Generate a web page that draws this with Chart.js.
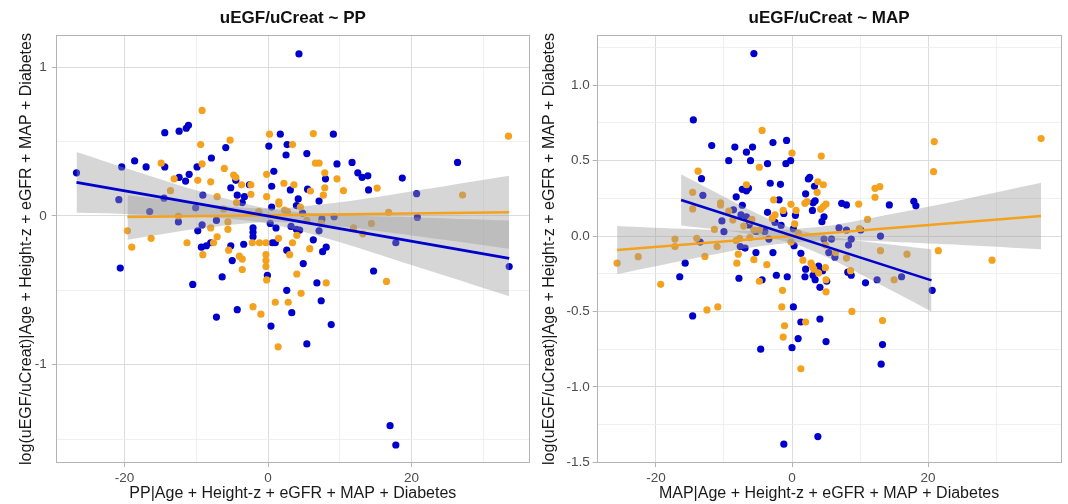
<!DOCTYPE html>
<html>
<head>
<meta charset="utf-8">
<script src="https://cdn.jsdelivr.net/npm/chart.js@4/dist/chart.umd.min.js"></script>
<style>
  body { margin: 0; background: #fff; }
  #wrap { display: flex; width: 1068px; height: 504px; }
  canvas { display: block; }
</style>
</head>
<body>
<div id="wrap">
  <canvas id="ppChart" width="534" height="504"></canvas>
  <canvas id="mapChart" width="534" height="504"></canvas>
</div>
<script>
// ---- left panel: uEGF/uCreat ~ PP  ([x, y] pairs)
const ppBlue = [
  [4.3,1.09],[-26.7,0.29],[-20.4,0.33],[-18.6,0.37],[-17.0,0.33],[-14.4,0.56],[-12.4,0.57],[-11.4,0.59],
  [-11.1,0.61],[-14.4,0.33],[-20.8,0.11],[-16.5,0.03],[-14.5,0.12],[-12.5,-0.04],[-12.4,0.26],[-11.5,0.235],
  [-11.0,0.28],[-9.9,0.33],[-9.1,0.14],[-10.1,0.055],[-7.9,0.39],[-5.9,0.46],[-5.2,0.19],[-4.5,0.24],
  [-4.3,0.14],[-3.3,0.13],[-3.6,0.09],[-9.2,-0.06],[-9.8,-0.10],[-7.2,-0.03],[0.1,0.47],[1.7,0.55],
  [2.65,0.48],[2.5,0.41],[0.8,0.30],[0.5,0.20],[-2.6,0.21],[-8.0,-0.18],[-8.6,-0.20],[-9.3,-0.21],
  [-5.2,-0.20],[-3.4,-0.19],[-2.1,-0.08],[-2.1,-0.11],[-2.1,-0.14],[0.6,-0.18],[1.0,-0.18],
  [9.1,0.55],[5.4,0.42],[9.6,0.35],[11.7,0.36],[12.5,0.29],[13.1,0.26],[13.9,0.27],[18.7,0.255],
  [26.4,0.36],[8.0,0.25],[3.1,0.175],[5.5,0.18],[4.2,0.115],[7.1,0.10],[14.0,0.175],[20.7,0.15],
  [20.8,-0.01],[17.8,-0.18],[3.95,0.07],[7.5,-0.02],[9.2,-0.005],[7.1,-0.10],[6.3,-0.16],[8.1,-0.21],
  [3.2,-0.07],[3.95,-0.09],[4.4,-0.095],[0.3,-0.05],[0.5,0.06],[1.1,-0.08],[4.8,0.02],[7.6,-0.24],
  [-20.6,-0.35],[-5.0,-0.30],[-6.4,-0.41],[-10.5,-0.46],[-7.2,-0.68],[-4.3,-0.63],[-0.1,-0.40],[0.4,-0.74],
  [2.6,-0.50],[2.6,-0.23],[3.3,-0.65],[5.4,-0.86],[4.9,-0.32],[6.8,-0.45],[7.4,-0.57],[8.8,-0.73],
  [14.7,-0.37],[17.0,-1.41],[17.8,-1.54],[33.6,-0.34]
];
const ppOrange = [
  [-9.2,0.71],[-9.4,0.48],[-5.3,0.51],[-14.9,0.355],[-13.1,0.25],[-13.6,0.17],[-9.8,0.24],[-8.0,0.23],
  [-9.2,0.35],[-6.1,0.32],[-4.8,0.275],[-4.5,0.26],[-3.7,0.21],[-2.4,0.21],[-2.4,0.146],[-7.1,0.13],
  [-6.2,0.047],[-8.0,-0.08],[-5.6,-0.04],[-5.6,-0.09],[-7.1,-0.14],[-11.3,-0.18],[-16.3,-0.15],[-19.0,-0.21],
  [-19.6,-0.10],[-12.5,0.0],[-0.2,0.28],[-0.2,0.13],[0.2,0.55],[2.2,0.22],[1.5,0.095],[1.5,0.08],
  [-1.3,0.03],[-2.2,-0.18],[-1.2,-0.18],[-0.3,-0.18],[1.45,-0.15],[-4.4,0.09],
  [6.3,0.554],[3.4,0.48],[6.6,0.355],[7.1,0.355],[7.9,0.29],[9.6,0.25],[7.9,0.19],[7.7,0.14],
  [10.5,0.17],[5.9,0.168],[3.6,0.21],[15.2,0.188],[27.1,0.141],[33.5,0.537],[16.8,0.025],[14.4,-0.05],
  [11.9,-0.08],[13.2,-0.12],[5.4,-0.03],[2.3,0.04],[2.7,0.03],[4.5,0.06],[7.4,-0.05],[4.0,-0.13],
  [3.4,-0.18],[5.8,-0.22],
  [-9.1,-0.26],[-7.6,-0.18],[-5.5,-0.23],[-4.0,-0.27],[-3.6,-0.29],[-3.6,-0.36],[-0.3,-0.26],[-0.3,-0.30],
  [-0.3,-0.34],[-0.2,-0.43],[1.0,-0.58],[-2.1,-0.61],[-1.0,-0.66],[1.4,-0.88],[3.0,-0.26],[4.0,-0.39],
  [8.1,-0.45],[4.6,-0.52],[2.8,-0.58],[16.5,-0.44]
];
const ppBlueFit = [[-26.7,0.226],[33.6,-0.285]];
const ppOrangeFit = [[-19.6,-0.007],[33.6,0.025]];
// [x, lower, upper]
const ppBlueBand = [[-26.7,0.021,0.431],[-20,0.013,0.325],[-10,-0.003,0.173],[0,-0.05,0.05],
  [10,-0.176,0.008],[20,-0.33,-0.008],[33.6,-0.54,-0.03]];
const ppOrangeBand = [[-19.6,-0.16,0.14],[-10,-0.088,0.086],[0,-0.04,0.05],[10,-0.071,0.093],
  [20,-0.131,0.165],[33.6,-0.22,0.27]];

// ---- right panel: uEGF/uCreat ~ MAP
const mapBlue = [
  [-5.6,1.21],[-14.5,0.77],[-11.8,0.60],[-8.4,0.59],[-6.7,0.556],[-5.8,0.59],[-2.8,0.62],[-0.8,0.634],
  [-9.3,0.50],[-6.1,0.50],[-3.6,0.48],[-0.9,0.48],[-0.2,0.50],[-13.3,0.38],[-7.3,0.31],[-6.7,0.30],
  [-6.4,0.317],[-8.2,0.26],[-3.2,0.35],[-1.7,0.343],[-1.9,0.24],[-3.6,0.157],[-1.2,0.15],[0.5,0.137],
  [2.4,0.378],[2.6,0.389],[2.0,0.28],[3.3,0.33],[3.0,0.17],[3.4,0.234],[-13.1,0.27],[-10.3,0.10],
  [-10.0,0.029],[-8.6,0.174],[-7.3,0.204],[-7.5,0.14],[-6.7,0.128],[-6.3,0.104],[-6.3,0.073],[-2.5,0.09],
  [-1.6,0.07],[-5.3,0.03],[-4.0,0.03],[-7.6,-0.07],[-6.9,-0.08],[-3.4,-0.02],[0.2,0.047],[0.3,-0.064],
  [-13.5,-0.04],[-5.3,-0.11],[-2.8,-0.11],[1.3,-0.115],[4.7,-0.02],[5.8,-0.02],[5.4,-0.11],[6.3,-0.14],
  [6.9,0.055],[8.0,0.04],[8.7,-0.02],[8.3,-0.06],[10.1,0.04],[13.0,0.0],[7.3,0.217],[8.0,0.206],
  [14.3,0.206],[17.9,0.23],[18.2,0.20],[4.4,0.095],[4.7,0.128],[3.1,0.22],
  [-15.7,-0.18],[-16.5,-0.27],[-14.6,-0.53],[-7.8,-0.28],[-4.4,-0.29],[-2.3,-0.26],[-0.7,-0.27],[-4.6,-0.75],
  [0.0,-0.74],[0.2,-0.47],[1.9,-0.27],[2.0,-0.22],[1.3,-0.57],[0.9,-0.68],[3.1,-0.26],[3.4,-0.29],
  [3.9,-0.20],[4.1,-0.34],[4.5,-0.23],[4.1,-0.55],[5.0,-0.70],[5.1,-0.30],[8.2,-0.24],[8.7,-0.26],
  [10.8,-0.31],[12.5,-0.29],[16.1,-0.27],[20.6,-0.36],[13.3,-0.72],[13.1,-0.85],[-1.2,-1.38],[3.8,-1.33]
];
const mapOrange = [
  [-4.4,0.70],[0.0,0.55],[4.3,0.53],[-4.8,0.456],[-13.8,0.43],[-14.6,0.29],[-14.6,0.18],[-10.5,0.22],
  [-10.5,0.206],[-9.3,0.166],[-6.7,0.34],[-8.7,0.106],[-6.1,0.10],[-2.7,0.24],[-2.5,0.14],[-2.9,0.117],
  [-1.3,0.17],[-0.15,0.21],[0.6,0.17],[1.9,0.217],[2.2,0.228],[3.8,0.36],[4.6,0.34],[3.7,0.29],
  [4.2,0.177],[5.0,0.212],[4.6,0.195],[9.8,0.212],[12.2,0.316],[12.9,0.327],[12.2,0.257],[20.9,0.626],
  [20.8,0.427],[36.6,0.646],[21.5,-0.097],[13.0,-0.097],[16.9,-0.12],[29.4,-0.16],[-17.2,-0.02],[-17.2,-0.07],
  [-14.0,-0.015],[-11.4,0.044],[-11.0,-0.07],[-22.6,-0.137],[-8.2,-0.03],[-7.7,-0.015],[-5.6,0.04],[-4.8,0.04],
  [-6.2,-0.01],[0.9,0.02],[4.9,-0.06],[11.1,0.11],[9.9,0.05],[0.4,0.08],[-7.1,0.066],[-5.9,0.11],
  [-25.7,-0.18],[-19.3,-0.32],[-12.8,-0.135],[-12.5,-0.49],[-10.9,-0.47],[-8.1,-0.18],[-7.9,-0.12],[-5.6,-0.157],
  [-4.8,-0.30],[-3.7,-0.19],[-1.4,-0.36],[-1.5,-0.47],[-1.1,-0.595],[-1.3,-0.67],[-0.15,-0.04],[1.6,-0.16],
  [2.8,-0.18],[3.0,-0.20],[3.2,-0.22],[2.0,-0.57],[1.3,-0.88],[3.9,-0.245],[4.9,-0.21],[5.0,-0.29],
  [5.0,-0.37],[6.4,-0.11],[8.0,-0.146],[8.6,-0.23],[8.8,-0.50],[13.3,-0.56],[15.0,-0.29]
];
const mapBlueFit = [[-16.3,0.239],[20.5,-0.294]];
const mapOrangeFit = [[-25.7,-0.093],[36.6,0.133]];
const mapBlueBand = [[-16.3,0.069,0.409],[-10,0.036,0.26],[-5,0.004,0.146],[0,-0.047,0.053],
  [5,-0.138,0.0],[10,-0.251,-0.033],[15,-0.369,-0.059],[20.5,-0.5,-0.088]];
const mapOrangeBand = [[-25.7,-0.253,0.067],[-15,-0.154,0.046],[-5,-0.07,0.034],[5,-0.03,0.066],
  [15,-0.039,0.149],[25,-0.059,0.241],[36.6,-0.087,0.353]];

// ---- axes
const xGrid = [-20, -10, 0, 10, 20, 30];
const xMajor = [-20, 0, 20];
const ppYGrid = [-1.5, -1, -0.5, 0, 0.5, 1];
const ppYMajor = [-1, 0, 1];
const mapYGrid = [-1.5, -1.25, -1, -0.75, -0.5, -0.25, 0, 0.25, 0.5, 0.75, 1, 1.25];
const mapYMajor = [-1.5, -1, -0.5, 0, 0.5, 1];

const BLUE = '#0000cd';
const ORANGE = '#f4a21e';
const BAND = 'rgba(153,153,153,0.4)';
const FONT = "'Liberation Sans', Arial, sans-serif";

function xy(arr) { return arr.map(p => ({ x: p[0], y: p[1] })); }
function isIn(list, v) { return list.some(m => Math.abs(m - v) < 1e-9); }

const panelDecor = {
  id: 'panelDecor',
  afterDatasetsDraw(chart, args, opts) {
    const { ctx, chartArea: a } = chart;
    ctx.save();
    ctx.strokeStyle = '#b3b3b3';
    ctx.lineWidth = 1;
    ctx.strokeRect(Math.round(a.left) + 0.5, Math.round(a.top) + 0.5,
      Math.round(a.right - a.left) - 1, Math.round(a.bottom - a.top) - 1);
    ctx.fillStyle = '#111';
    ctx.font = 'bold 17px ' + FONT;
    ctx.textAlign = 'center';
    ctx.textBaseline = 'middle';
    ctx.fillText(opts.text, (a.left + a.right) / 2, 18);
    ctx.restore();
  }
};

function bandSets(band) {
  const common = { type: 'line', pointRadius: 0, borderWidth: 0, borderColor: 'rgba(0,0,0,0)',
    tension: 0.3, order: 1 };
  return [
    Object.assign({ data: band.map(b => ({ x: b[0], y: b[2] })), fill: '+1', backgroundColor: BAND }, common),
    Object.assign({ data: band.map(b => ({ x: b[0], y: b[1] })), fill: false }, common)
  ];
}

function makePanel(id, p) {
  const ctx = document.getElementById(id).getContext('2d');
  return new Chart(ctx, {
    type: 'scatter',
    data: {
      datasets: [
        { type: 'line', data: xy(p.blueFit), borderColor: BLUE, borderWidth: 2.6, pointRadius: 0, fill: false, order: 0 },
        { type: 'line', data: xy(p.orangeFit), borderColor: ORANGE, borderWidth: 2.6, pointRadius: 0, fill: false, order: 0 },
        ...bandSets(p.blueBand),
        ...bandSets(p.orangeBand),
        { data: xy(p.orange), backgroundColor: ORANGE, pointRadius: 3.6, borderWidth: 0, order: 2 },
        { data: xy(p.blue), backgroundColor: BLUE, pointRadius: 3.6, borderWidth: 0, order: 3 }
      ]
    },
    options: {
      responsive: false,
      animation: false,
      events: [],
      layout: { padding: { top: 35, right: p.padRight, bottom: 0, left: 0 } },
      plugins: {
        legend: { display: false },
        tooltip: { enabled: false },
        panelDecor: { text: p.title }
      },
      scales: {
        x: {
          type: 'linear', min: p.xMin, max: p.xMax,
          afterBuildTicks: s => { s.ticks = xGrid.map(v => ({ value: v })); },
          afterFit: s => { s.height = 41; },
          border: { display: false },
          grid: {
            color: c => isIn(xMajor, c.tick.value) ? '#dcdcdc' : '#ececec',
            lineWidth: c => isIn(xMajor, c.tick.value) ? 1 : 0.8,
            tickColor: c => isIn(xMajor, c.tick.value) ? '#b3b3b3' : 'rgba(0,0,0,0)',
            tickLength: 4
          },
          ticks: {
            autoSkip: false, maxRotation: 0, padding: 3, color: '#4d4d4d',
            font: { family: FONT, size: 13.5 },
            callback: v => isIn(xMajor, v) ? String(v) : ''
          },
          title: { display: true, text: p.xTitle, color: '#1a1a1a',
            font: { family: FONT, size: 16 }, padding: { top: 0, bottom: 0.4 } }
        },
        y: {
          type: 'linear', min: p.yMin, max: p.yMax,
          afterBuildTicks: s => { s.ticks = p.yGrid.map(v => ({ value: v })); },
          afterFit: s => { s.width = p.yWidth; },
          border: { display: false },
          grid: {
            color: c => isIn(p.yMajor, c.tick.value) ? '#dcdcdc' : '#ececec',
            lineWidth: c => isIn(p.yMajor, c.tick.value) ? 1 : 0.8,
            tickColor: c => isIn(p.yMajor, c.tick.value) ? '#b3b3b3' : 'rgba(0,0,0,0)',
            tickLength: 4
          },
          ticks: {
            autoSkip: false, padding: p.yTickPad, color: '#4d4d4d',
            font: { family: FONT, size: 13.5 },
            callback: v => isIn(p.yMajor, v) ? p.yFmt(v) : ''
          },
          title: { display: true, text: 'log(uEGF/uCreat)|Age + Height-z + eGFR + MAP + Diabetes',
            color: '#1a1a1a', font: { family: FONT, size: 16 }, padding: { top: p.yTitlePad, bottom: 0 } }
        }
      }
    },
    plugins: [panelDecor]
  });
}

makePanel('ppChart', {
  title: 'uEGF/uCreat ~ PP',
  xTitle: 'PP|Age + Height-z + eGFR + MAP + Diabetes',
  blue: ppBlue, orange: ppOrange, blueFit: ppBlueFit, orangeFit: ppOrangeFit,
  blueBand: ppBlueBand, orangeBand: ppOrangeBand,
  xMin: -29.6, xMax: 36.5, yMin: -1.661, yMax: 1.217,
  yGrid: ppYGrid, yMajor: ppYMajor, yFmt: v => String(v),
  yWidth: 55.7, padRight: 3.6, yTickPad: 5, yTitlePad: 17.2
});

makePanel('mapChart', {
  title: 'uEGF/uCreat ~ MAP',
  xTitle: 'MAP|Age + Height-z + eGFR + MAP + Diabetes',
  blue: mapBlue, orange: mapOrange, blueFit: mapBlueFit, orangeFit: mapOrangeFit,
  blueBand: mapBlueBand, orangeBand: mapOrangeBand,
  xMin: -28.7, xMax: 39.6, yMin: -1.505, yMax: 1.333,
  yGrid: mapYGrid, yMajor: mapYMajor, yFmt: v => v.toFixed(1),
  yWidth: 62.7, padRight: 6.5, yTickPad: 3, yTitlePad: 6
});
</script>
</body>
</html>
